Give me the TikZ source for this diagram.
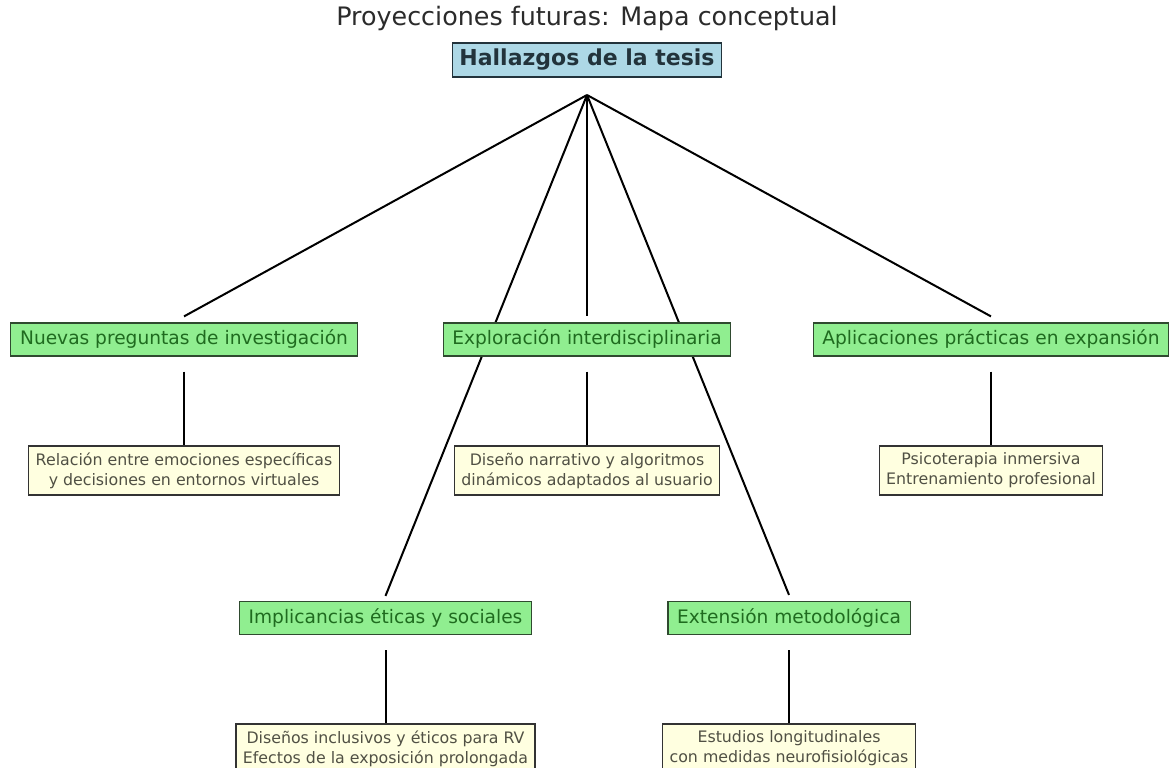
\documentclass[tikz,border=0pt]{standalone}
\usepackage{fontspec}
\setmainfont{DejaVu Sans}
\usetikzlibrary{backgrounds}
\pgfdeclarelayer{canvas}
\pgfsetlayers{canvas,background,main}
\definecolor{titlegray}{HTML}{2B2B2B}
\definecolor{rootfill}{HTML}{ADD8E6}
\definecolor{roottext}{HTML}{22333B}
\definecolor{childfill}{HTML}{90EE90}
\definecolor{childtext}{HTML}{1F6B1F}
\definecolor{childedge}{HTML}{2F4A2F}
\definecolor{leaffill}{HTML}{FFFFE0}
\definecolor{leaftext}{HTML}{505044}
\definecolor{leafedge}{HTML}{333333}
\tikzset{
  titletext/.style={text=titlegray, font=\fontsize{12.7pt}{15pt}\selectfont, inner sep=0pt},
  rootbox/.style={draw=roottext, line width=0.6pt, fill=rootfill, text=roottext,
    font=\bfseries\fontsize{11pt}{13pt}\selectfont, inner xsep=3.5pt, inner ysep=0pt,
    minimum height=17pt, text height=8.2pt, text depth=2.3pt},
  childbox/.style={draw=childedge, line width=0.6pt, fill=childfill, text=childtext,
    font=\fontsize{9.3pt}{11pt}\selectfont, inner xsep=4.6pt, inner ysep=0pt,
    minimum height=16.5pt, text height=7pt, text depth=2pt},
  leafbox/.style={draw=leafedge, line width=0.6pt, fill=leaffill, text=leaftext,
    font=\fontsize{7.9pt}{10pt}\selectfont, align=center, inner xsep=3.5pt, inner ysep=0pt,
    minimum height=24.5pt},
  edge/.style={draw=black, line width=1pt},
}
\begin{document}
\begin{tikzpicture}[x=0.5pt, y=-0.5pt]
\begin{pgfonlayer}{canvas}
\fill[white] (0,0) rectangle (1174,767);
\end{pgfonlayer}
\useasboundingbox (0,0) rectangle (1174,767);

\node[titletext] (title) at (587,18) {Proyecciones futuras: Mapa conceptual};
\node[rootbox] (root) at (587,60) {Hallazgos de la tesis};
\coordinate (hub) at (587,95);

\node[childbox] (nuevas) at (184,339.5) {Nuevas preguntas de investigación};
\node[childbox] (explo) at (587,339.5) {Exploración interdisciplinaria};
\node[childbox] (aplic) at (991,339.5) {Aplicaciones prácticas en expansión};
\node[childbox] (impl) at (385.5,618) {Implicancias éticas y sociales};
\node[childbox] (exten) at (789,618) {Extensión metodológica};

\node[leafbox] (rel) at (184,470.5) {Relación entre emociones específicas\\y decisiones en entornos virtuales};
\node[leafbox] (dis) at (587,470.5) {Diseño narrativo y algoritmos\\dinámicos adaptados al usuario};
\node[leafbox] (psi) at (991,470.5) {Psicoterapia inmersiva\\Entrenamiento profesional};
\node[leafbox] (inc) at (385.5,748.5) {Diseños inclusivos y éticos para RV\\Efectos de la exposición prolongada};
\node[leafbox] (est) at (789,748.5) {Estudios longitudinales\\con medidas neurofisiológicas};

\begin{scope}[on background layer]
\draw[edge] (hub) -- ([yshift=3pt]nuevas.north);
\draw[edge] (hub) -- ([yshift=3pt]explo.north);
\draw[edge] (hub) -- ([yshift=3pt]aplic.north);
\draw[edge] (hub) -- ([yshift=2.5pt]impl.north);
\draw[edge] (hub) -- ([yshift=3pt]exten.north);
\draw[edge] ([yshift=-7.5pt]nuevas.south) -- (rel.north);
\draw[edge] ([yshift=-7.5pt]explo.south) -- (dis.north);
\draw[edge] ([yshift=-7.5pt]aplic.south) -- (psi.north);
\draw[edge] ([yshift=-7.5pt]impl.south) -- (inc.north);
\draw[edge] ([yshift=-7.5pt]exten.south) -- (est.north);
\end{scope}
\end{tikzpicture}
\end{document}
